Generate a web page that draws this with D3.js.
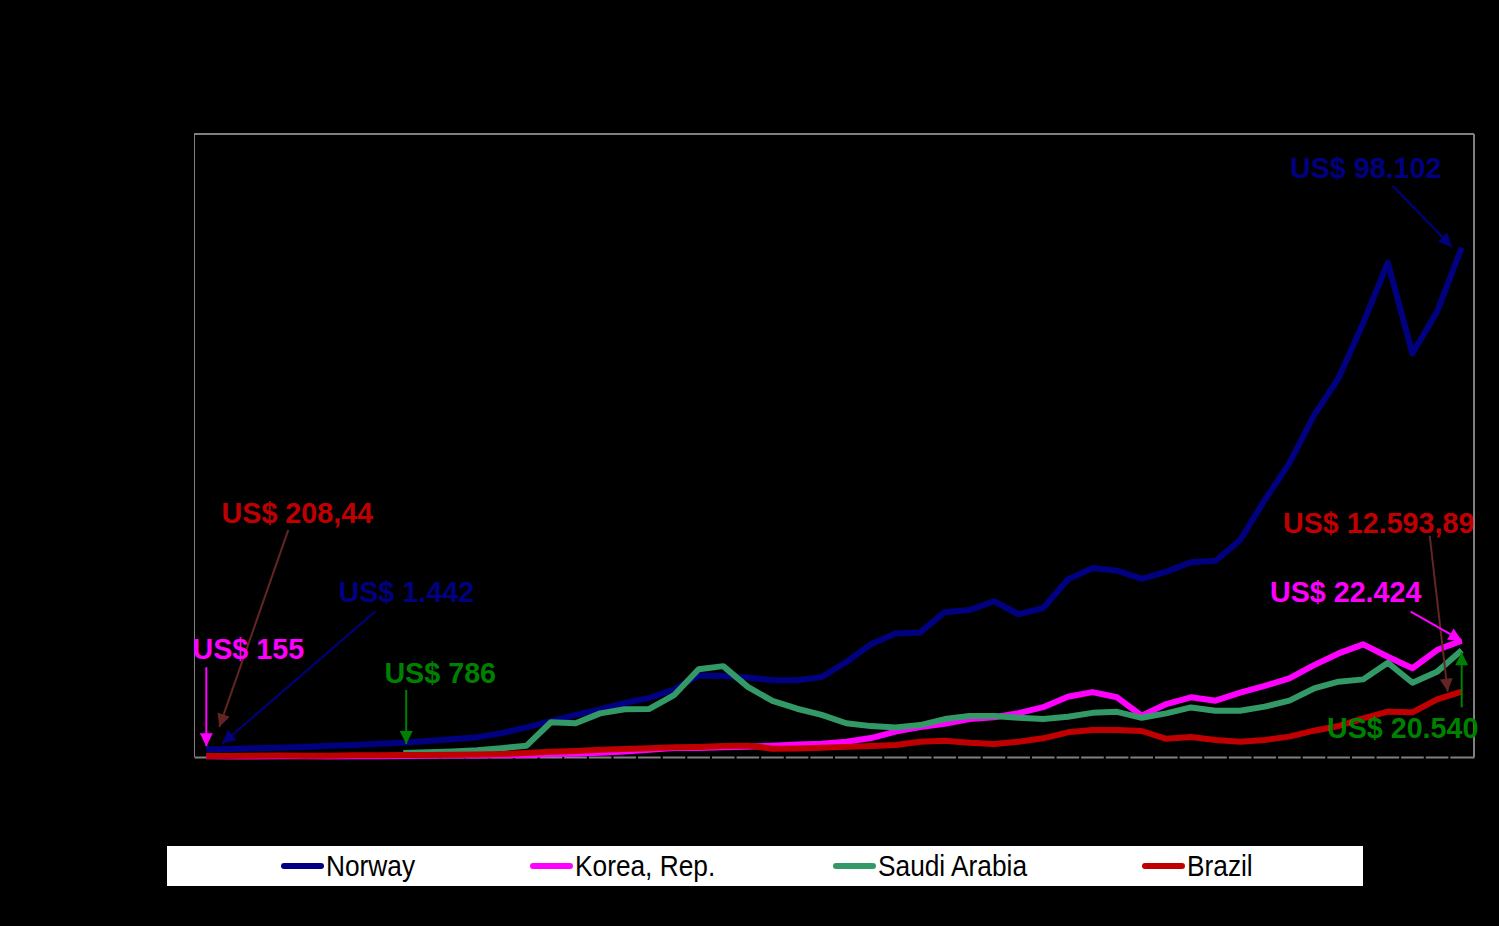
<!DOCTYPE html>
<html>
<head>
<meta charset="utf-8">
<script src="https://cdn.jsdelivr.net/npm/d3@7"></script>
<style>
  html, body { margin: 0; padding: 0; background: #000; }
  svg { display: block; }
</style>
</head>
<body>
<svg id="chart" width="1499" height="926"></svg>
<script>
const years = d3.range(1960, 2012);

const norway = [1442, 1560, 1670, 1780, 1940, 2160, 2330, 2560, 2750, 3100,
  3400, 3790, 4600, 5700, 6900, 8100, 9200, 10400, 11400, 13000,
  15700, 15600, 15300, 14800, 14800, 15400, 18300, 21700, 23800, 24000,
  27900, 28300, 30000, 27500, 28700, 34200, 36400, 35900, 34300, 35700,
  37500, 37800, 41800, 49500, 56600, 65800, 73000, 83600, 95200, 77700,
  85800, 98102];

const korea = [155, 92, 104, 144, 123, 108, 131, 159, 196, 241,
  279, 300, 323, 405, 557, 615, 831, 1051, 1399, 1748,
  1711, 1881, 1980, 2181, 2422, 2550, 2950, 3650, 4900, 5750,
  6400, 7300, 7650, 8450, 9600, 11600, 12500, 11500, 7950, 10200,
  11500, 10850, 12400, 13700, 15150, 17700, 19950, 21700, 19300, 17100,
  20600, 22424];

const saudi = [null, null, null, null, null, null, null, null, 786, 900,
  1050, 1300, 1700, 2150, 6700, 6500, 8400, 9200, 9250, 11900,
  16900, 17500, 13500, 10800, 9300, 8100, 6500, 5950, 5700, 6150,
  7300, 7900, 7900, 7550, 7300, 7750, 8500, 8700, 7550, 8400,
  9550, 8900, 8900, 9700, 10850, 13200, 14500, 14950, 18150, 14300,
  16400, 20540];

const brazil = [208.44, 200, 230, 280, 260, 255, 330, 350, 375, 405,
  445, 500, 580, 780, 1000, 1150, 1380, 1550, 1690, 1860,
  1940, 2100, 2190, 1600, 1650, 1800, 1950, 2100, 2300, 2950,
  3140, 2760, 2500, 2950, 3600, 4750, 5200, 5200, 5010, 3500,
  3850, 3270, 2950, 3270, 3920, 5070, 5970, 7450, 8730, 8600,
  11100, 12593.89];

const seriesNames = ["Norway", "Korea, Rep.", "Saudi Arabia", "Brazil"];
const seriesColors = ["#000080", "#FF00FF", "#339966", "#C00000"];
const seriesValues = [norway, korea, saudi, brazil];

// annotations: [series index, year, label, text color, arrow color, text dx, text dy, start dx, start dy, tip dx, tip dy]
const annotations = [
  [0, 2011, "US$ 98.102", "#000080", "#000080", -96, -70, -69, -62, -10, -1],
  [3, 2011, "US$ 12.593,89", "#C00000", "#632523", -83, -159, -32, -156, -14, 0],
  [1, 2011, "US$ 22.424", "#FF00FF", "#FF00FF", -116, -39, -51, -29, 0, 0],
  [2, 2011, "US$ 20.540", "#008000", "#008000", -59, 88, 0, 57, 0, 2],
  [3, 1960, "US$ 208,44", "#C00000", "#632523", 91, -233, 82, -226, 13, -29],
  [0, 1960, "US$ 1.442", "#000080", "#000080", 200, -148, 169, -138, 16, -6],
  [1, 1960, "US$ 155", "#FF00FF", "#FF00FF", 42, -97, 0, -89, 0, -10],
  [2, 1968, "US$ 786", "#008000", "#008000", 37, -70, 3, -63, 3, -9]
];

const svg = d3.select("#chart");
const L = 194, R = 1474, T = 134, B = 757;

const x = d3.scaleBand().domain(years).range([L, R]);
const xc = yr => x(yr) + x.bandwidth() / 2;
const y = d3.scaleLinear().domain([0, 120000]).range([B, T]);

svg.append("rect").attr("width", 1499).attr("height", 926).attr("fill", "#000");

// plot frame
svg.append("line").attr("x1", L).attr("x2", R).attr("y1", T).attr("y2", T)
  .attr("stroke", "#808080").attr("stroke-width", 2);
svg.append("line").attr("x1", R).attr("x2", R).attr("y1", T).attr("y2", B)
  .attr("stroke", "#808080").attr("stroke-width", 2);
svg.append("line").attr("x1", L + 0.5).attr("x2", L + 0.5).attr("y1", T).attr("y2", B)
  .attr("stroke", "#808080").attr("stroke-width", 1);

// x axis (category, ticks between categories)
const xAxis = d3.axisBottom(x).tickSize(0).tickFormat("");
const gx = svg.append("g").attr("transform", `translate(0,${B})`).call(xAxis);
gx.select(".domain").attr("stroke", "#808080").attr("stroke-width", 2);
gx.selectAll(".tick").remove();
gx.selectAll(".gap").data(years.slice(1)).enter().append("line")
  .attr("x1", d => x(d)).attr("x2", d => x(d)).attr("y1", -1.5).attr("y2", 5)
  .attr("stroke", "#000").attr("stroke-width", 2);

// lines
const line = d3.line()
  .defined(d => d.v !== null)
  .x(d => xc(d.year))
  .y(d => y(d.v));

seriesValues.forEach((vals, i) => {
  const data = years.map((yr, j) => ({ year: yr, v: vals[j] }));
  svg.append("path").datum(data)
    .attr("fill", "none")
    .attr("stroke", seriesColors[i])
    .attr("stroke-width", 6)
    .attr("stroke-linejoin", "round")
    .attr("d", line);
});

// arrowhead markers
const defs = svg.append("defs");
const arrowColors = Array.from(new Set(annotations.map(a => a[4])));
arrowColors.forEach((c, k) => {
  defs.append("marker")
    .attr("id", "ah" + k)
    .attr("viewBox", "0 0 10 10")
    .attr("refX", 10).attr("refY", 5)
    .attr("markerUnits", "userSpaceOnUse")
    .attr("markerWidth", 15).attr("markerHeight", 13)
    .attr("orient", "auto")
    .append("path").attr("d", "M0,0 L10,5 L0,10 Z").attr("fill", c);
});

annotations.forEach(a => {
  const [si, yr, label, tc, ac, tdx, tdy, sdx, sdy, pdx, pdy] = a;
  const idx = years.indexOf(yr);
  const px = xc(yr), py = y(seriesValues[si][idx]);
  svg.append("line")
    .attr("x1", px + sdx).attr("y1", py + sdy)
    .attr("x2", px + pdx).attr("y2", py + pdy)
    .attr("stroke", ac).attr("stroke-width", 2)
    .attr("marker-end", `url(#ah${arrowColors.indexOf(ac)})`);
  svg.append("text")
    .attr("x", px + tdx).attr("y", py + tdy)
    .attr("text-anchor", "middle")
    .attr("font-family", "Liberation Sans, Arial, sans-serif")
    .attr("font-weight", "bold")
    .attr("font-size", 28.7)
    .attr("fill", tc)
    .text(label);
});

// legend
svg.append("rect").attr("x", 167).attr("y", 846).attr("width", 1196).attr("height", 40).attr("fill", "#fff");
const legendX = [281, 530, 833, 1142];
seriesNames.forEach((n, i) => {
  const g = svg.append("g").attr("transform", `translate(${legendX[i]},866)`);
  g.append("line").attr("x1", 3).attr("x2", 40).attr("y1", 0).attr("y2", 0)
    .attr("stroke", seriesColors[i]).attr("stroke-width", 6).attr("stroke-linecap", "round");
  g.append("text").attr("x", 45).attr("y", 10)
    .attr("transform", "translate(45,10) scale(1,1.1) translate(-45,-10)")
    .attr("font-family", "Liberation Sans, Arial, sans-serif")
    .attr("font-size", 26.3)
    .attr("fill", "#000")
    .text(n);
});
</script>
</body>
</html>
